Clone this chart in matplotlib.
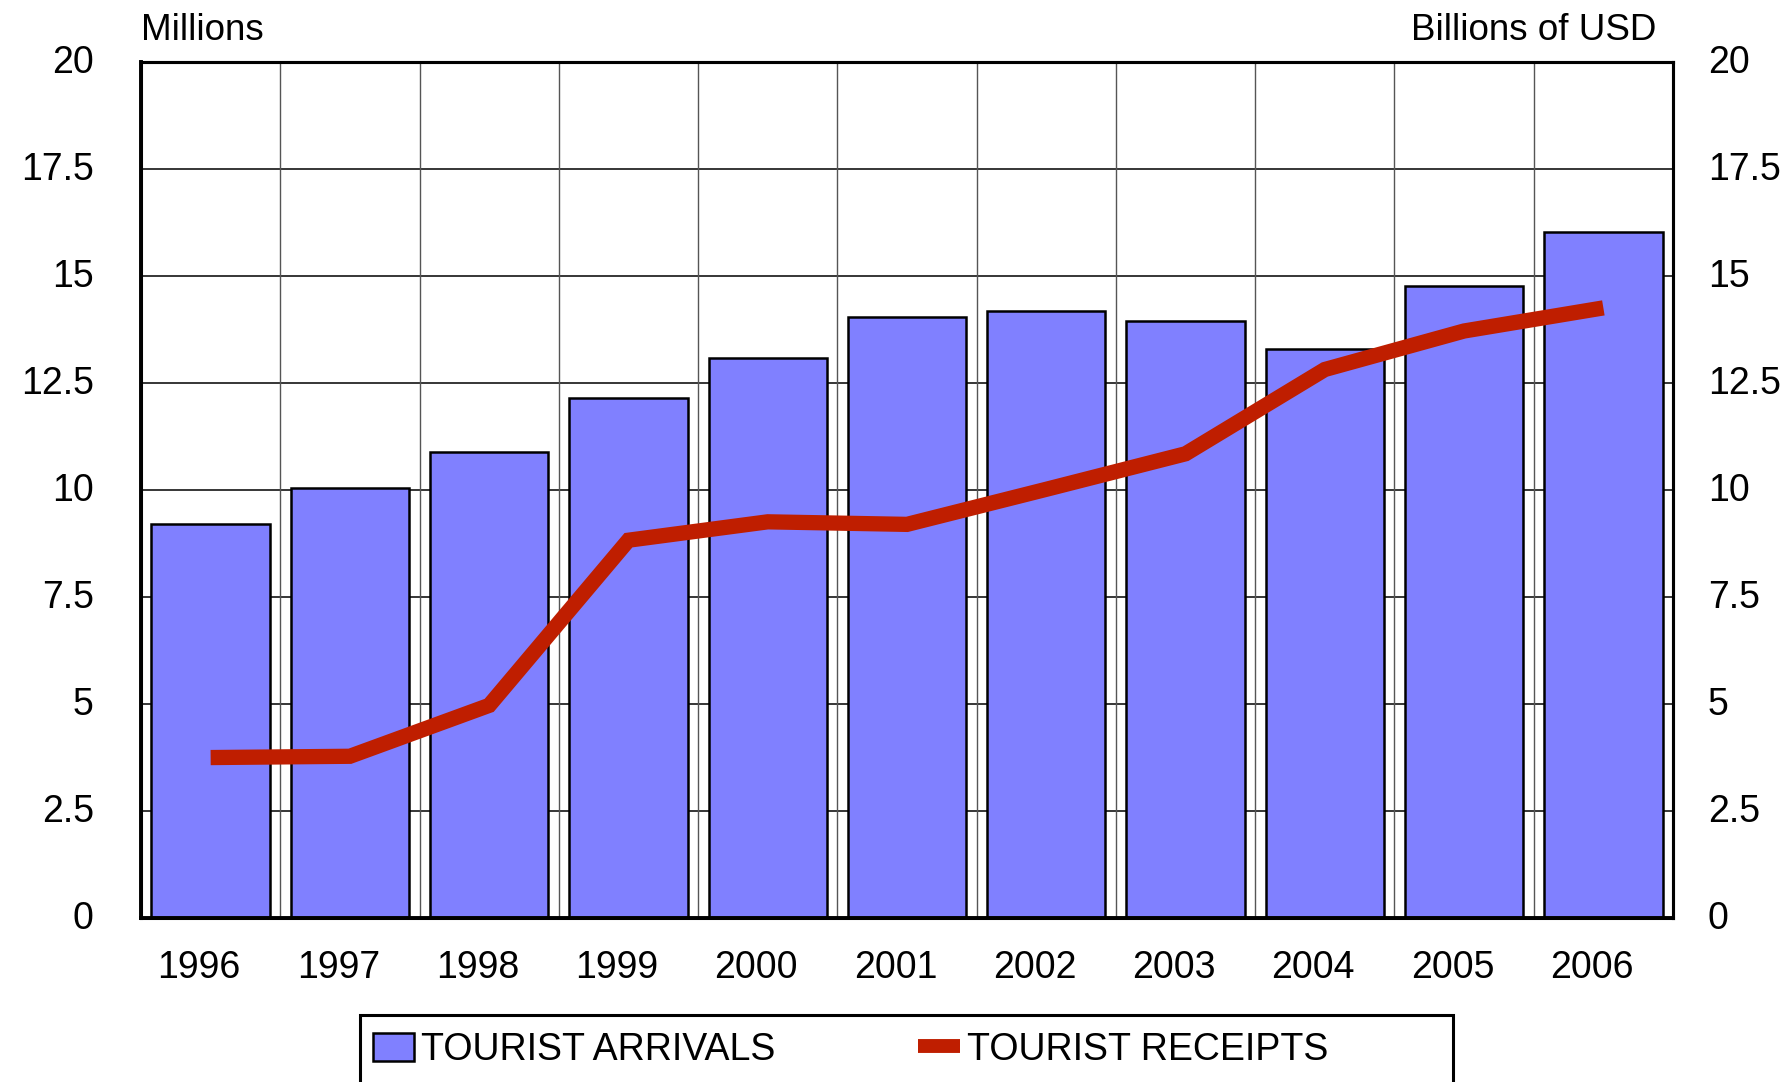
import matplotlib
matplotlib.use("Agg")
import matplotlib.pyplot as plt
from matplotlib.patches import Rectangle, Patch
from matplotlib.lines import Line2D
from matplotlib.transforms import ScaledTranslation
import numpy as np

years = ["1996", "1997", "1998", "1999", "2000", "2001", "2002", "2003", "2004", "2005", "2006"]
arrivals = [9.20, 10.05, 10.90, 12.15, 13.09, 14.04, 14.18, 13.96, 13.30, 14.76, 16.04]
receipts = [3.75, 3.78, 4.97, 8.83, 9.26, 9.20, 10.02, 10.85, 12.82, 13.72, 14.26]
y_ticks = [0, 2.5, 5, 7.5, 10, 12.5, 15, 17.5, 20]
y_tick_labels = ["0", "2.5", "5", "7.5", "10", "12.5", "15", "17.5", "20"]

plt.rcParams['font.family'] = ['Liberation Sans', 'DejaVu Sans']
W, H, DPI = 1783, 1082, 100
fig = plt.figure(figsize=(W / DPI, H / DPI), dpi=DPI)
ax = fig.add_axes([141 / W, 1 - 918 / H, (1673 - 141) / W, (918 - 62.3) / H])

x = np.arange(len(years))
ax.set_xlim(-0.5, len(years) - 0.5)
ax.set_ylim(0, 20)

# grid
for yv in y_ticks[1:-1]:
    ax.axhline(yv, color="black", lw=1.1, zorder=0)
for xv in x[:-1] + 0.5:
    ax.axvline(xv, color="#555555", lw=1.0, zorder=0)

ax.bar(x, arrivals, width=0.85, color="#8080FF", edgecolor="black", linewidth=1.8, zorder=2)

ax2 = ax.twinx()
ax2.set_ylim(0, 20)
ax2.plot(x, receipts, color="#BF1E00", lw=11, solid_capstyle="butt", solid_joinstyle="miter", zorder=3)

for a in (ax, ax2):
    for s in a.spines.values():
        s.set_linewidth(2.2)
        s.set_color("black")
ax.spines["left"].set_linewidth(2.8)
ax.spines["bottom"].set_linewidth(2.8)

ax.set_yticks(y_ticks)
ax.set_yticklabels(y_tick_labels)
ax2.set_yticks(y_ticks)
ax2.set_yticklabels(y_tick_labels)
ax.set_xticks(x)
ax.set_xticklabels(years)
ax.tick_params(axis="y", length=0, pad=34, labelsize=27)
ax.tick_params(axis="x", length=0, pad=23, labelsize=27)
ax2.tick_params(axis="y", length=0, pad=25, labelsize=27)

for lbl in ax.get_xticklabels():
    lbl.set_transform(lbl.get_transform() + ScaledTranslation(-11.6 / DPI, 0, fig.dpi_scale_trans))
for lbl in ax.get_yticklabels() + ax2.get_yticklabels():
    lbl.set_transform(lbl.get_transform() + ScaledTranslation(0, 3 / DPI, fig.dpi_scale_trans))

fig.text(141 / W, 1 - 40.5 / H, "Millions", fontsize=26.5, ha="left", va="baseline")
fig.text(1656 / W, 1 - 40.5 / H, "Billions of USD", fontsize=26.5, ha="right", va="baseline")

# legend frame
fig.patches.append(Rectangle((360, -30), 1453 - 360, (H - 1015) + 30, transform=None,
                             fill=False, edgecolor="black", linewidth=2.2, figure=fig))
handles = [Patch(facecolor="#8080FF", edgecolor="black", linewidth=1.8),
           Line2D([0], [0], color="#BF1E00", lw=10, solid_capstyle="butt")]
leg = fig.legend(handles, ["TOURIST ARRIVALS", "TOURIST RECEIPTS"], ncol=2, frameon=False,
                 loc="upper left", bbox_to_anchor=(373 / W, 1 - 1032 / H),
                 fontsize=27, handlelength=1.1, handleheight=0.8, handletextpad=0.19,
                 columnspacing=3.8, borderpad=0, borderaxespad=0)

fig.savefig("out.png", dpi=DPI)
